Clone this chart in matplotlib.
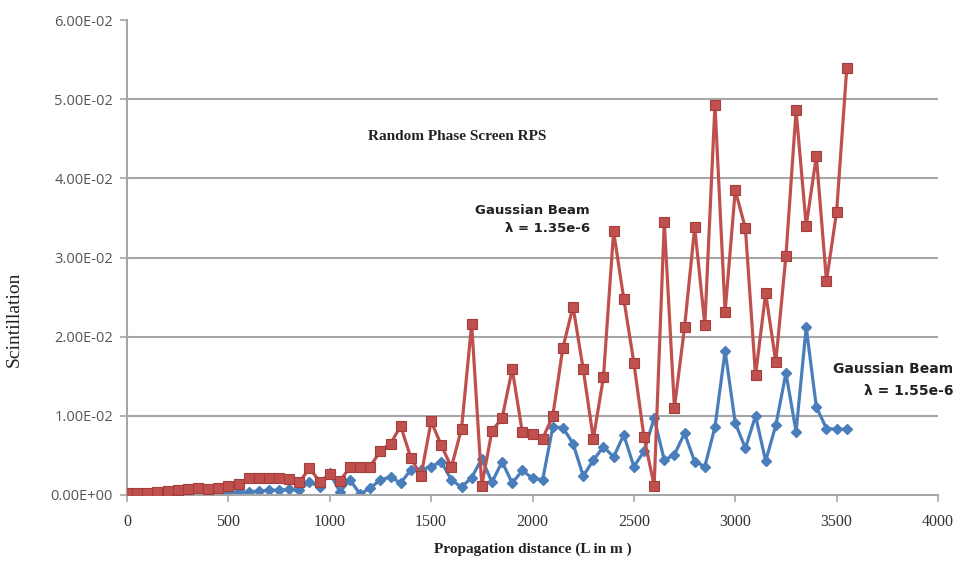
import matplotlib
matplotlib.use("Agg")
import matplotlib.pyplot as plt
import numpy as np

distance = list(range(0, 3600, 50))

scint_135 = [
    0.0002, 0.0002, 0.0003, 0.0004, 0.0005, 0.0006, 0.0007, 0.0009, 0.0008, 0.0009, 0.0011, 0.0014,
    0.0021, 0.0021, 0.0022, 0.0021, 0.0020, 0.0016, 0.0034, 0.0017, 0.0026, 0.0018, 0.0035, 0.0035,
    0.0036, 0.0056, 0.0065, 0.0087, 0.0047, 0.0024, 0.0093, 0.0063, 0.0035, 0.0084, 0.0216, 0.0012,
    0.0081, 0.0097, 0.0159, 0.0079, 0.0077, 0.0071, 0.0100, 0.0186, 0.0238, 0.0159, 0.0071, 0.0149,
    0.0333, 0.0248, 0.0167, 0.0073, 0.0012, 0.0345, 0.0110, 0.0212, 0.0338, 0.0215, 0.0493, 0.0231,
    0.0385, 0.0337, 0.0151, 0.0255, 0.0168, 0.0302, 0.0486, 0.0340, 0.0428, 0.0270, 0.0358, 0.0539,
]

scint_155 = [
    0.0001, 0.0001, 0.0001, 0.0002, 0.0002, 0.0002, 0.0003, 0.0003, 0.0003, 0.0003, 0.0003, 0.0004,
    0.0004, 0.0005, 0.0006, 0.0006, 0.0007, 0.0006, 0.0017, 0.0010, 0.0028, 0.0004, 0.0019, 0.0001,
    0.0009, 0.0019, 0.0023, 0.0015, 0.0032, 0.0032, 0.0036, 0.0042, 0.0019, 0.0010, 0.0022, 0.0046,
    0.0016, 0.0042, 0.0015, 0.0031, 0.0021, 0.0019, 0.0086, 0.0085, 0.0065, 0.0024, 0.0044, 0.0061,
    0.0048, 0.0076, 0.0036, 0.0055, 0.0097, 0.0044, 0.0051, 0.0078, 0.0042, 0.0036, 0.0086, 0.0182,
    0.0091, 0.0059, 0.0100, 0.0043, 0.0088, 0.0154, 0.0080, 0.0212, 0.0111, 0.0084, 0.0083, 0.0083,
]

x_ticks = [0, 500, 1000, 1500, 2000, 2500, 3000, 3500, 4000]
y_ticks = [0.0, 0.01, 0.02, 0.03, 0.04, 0.05, 0.06]
y_tick_labels = ["0.00E+00", "1.00E-02", "2.00E-02", "3.00E-02", "4.00E-02", "5.00E-02", "6.00E-02"]

RED = "#C0504D"
BLUE = "#4A7EBB"

fig = plt.figure(figsize=(9.63, 5.63), dpi=100)
ax = fig.add_axes([127 / 963, 68 / 563, 811 / 963, 475 / 563])

for yv in y_ticks[1:-1]:
    ax.axhline(yv, color="#A6A6A6", linewidth=1.5, zorder=0)

ax.plot(distance, scint_155, color=BLUE, linewidth=2.3, marker="D", markersize=5.5,
        markerfacecolor=BLUE, markeredgecolor=BLUE, zorder=2)
ax.plot(distance, scint_135, color=RED, linewidth=2.3, marker="s", markersize=7.3,
        markerfacecolor=RED, markeredgecolor="#A33E3B", markeredgewidth=0.8, zorder=3)

ax.set_xlim(0, 4000)
ax.set_ylim(0, 0.06)
ax.set_xticks(x_ticks)
ax.set_xticklabels([str(v) for v in x_ticks], family="Liberation Serif", fontsize=11.5)
ax.set_yticks(y_ticks)
ax.set_yticklabels(y_tick_labels, family="Open Sans", fontsize=10.5)

for s in ["top", "right"]:
    ax.spines[s].set_visible(False)
ax.spines["left"].set_color("#A6A6A6")
ax.spines["bottom"].set_color("#A6A6A6")
ax.spines["left"].set_linewidth(1.5)
ax.spines["bottom"].set_linewidth(1.5)
ax.tick_params(axis="both", colors="#A6A6A6", length=5, width=1.2)
ax.tick_params(axis="x", labelcolor="#333333", pad=9)
ax.tick_params(axis="y", labelcolor="#555555", pad=5)

ax.set_xlabel("Propagation distance (L in m )", family="Liberation Serif", fontweight="bold",
              fontsize=11, color="#222222", labelpad=9)
ax.set_ylabel("Scintillation", family="Liberation Serif", fontsize=14, color="#222222")
ax.yaxis.set_label_coords(-0.128, 0.37)

ax.text(0.407, 0.754, "Random Phase Screen RPS", transform=ax.transAxes, family="Liberation Serif",
        fontweight="bold", fontsize=11, color="#222222", ha="center", va="center")
ax.text(0.571, 0.60, "Gaussian Beam", transform=ax.transAxes, family="DejaVu Sans",
        fontweight="bold", fontsize=9.5, color="#222222", ha="right", va="center")
ax.text(0.571, 0.562, "λ = 1.35e-6", transform=ax.transAxes, family="DejaVu Sans",
        fontweight="bold", fontsize=9.5, color="#222222", ha="right", va="center")
ax.text(1.0185, 0.265, "Gaussian Beam", transform=ax.transAxes, family="DejaVu Sans",
        fontweight="bold", fontsize=10, color="#222222", ha="right", va="center", clip_on=False)
ax.text(1.0185, 0.219, "λ = 1.55e-6", transform=ax.transAxes, family="DejaVu Sans",
        fontweight="bold", fontsize=10, color="#222222", ha="right", va="center", clip_on=False)

fig.savefig("out.png", dpi=100)
